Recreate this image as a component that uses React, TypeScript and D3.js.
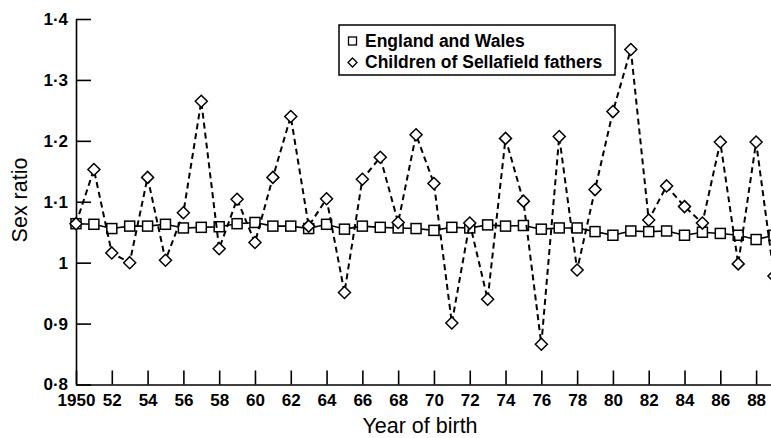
import React, { useRef, useEffect } from 'react';
import * as d3 from 'd3';

const years = [
  1950, 1951, 1952, 1953, 1954, 1955, 1956, 1957, 1958, 1959,
  1960, 1961, 1962, 1963, 1964, 1965, 1966, 1967, 1968, 1969,
  1970, 1971, 1972, 1973, 1974, 1975, 1976, 1977, 1978, 1979,
  1980, 1981, 1982, 1983, 1984, 1985, 1986, 1987, 1988, 1989,
];

const englandWales = [
  1.064, 1.063, 1.056, 1.060, 1.060, 1.063, 1.057, 1.058, 1.059, 1.064,
  1.066, 1.060, 1.060, 1.056, 1.063, 1.055, 1.060, 1.058, 1.057, 1.056,
  1.053, 1.058, 1.057, 1.062, 1.060, 1.061, 1.055, 1.057, 1.057, 1.051,
  1.045, 1.052, 1.051, 1.052, 1.045, 1.050, 1.048, 1.045, 1.038, 1.045,
];

const sellafield = [
  1.064, 1.153, 1.016, 1.000, 1.140, 1.004, 1.082, 1.265, 1.023, 1.104,
  1.033, 1.140, 1.240, 1.060, 1.105, 0.951, 1.137, 1.173, 1.066, 1.210,
  1.130, 0.901, 1.065, 0.940, 1.204, 1.101, 0.866, 1.207, 0.988, 1.120,
  1.248, 1.350, 1.070, 1.126, 1.092, 1.065, 1.198, 0.998, 1.198, 0.978,
];

const xTicks = [1950, 1952, 1954, 1956, 1958, 1960, 1962, 1964, 1966, 1968, 1970,
  1972, 1974, 1976, 1978, 1980, 1982, 1984, 1986, 1988];
const yTicks = [0.8, 0.9, 1.0, 1.1, 1.2, 1.3, 1.4];

const seriesNames = ['England and Wales', 'Children of Sellafield fathers'];

const width = 771;
const height = 438;
const FONT = '"Liberation Sans", Arial, Helvetica, sans-serif';

export default function App() {
  const ref = useRef<SVGSVGElement | null>(null);

  useEffect(() => {
    if (!ref.current) return;
    const svg = d3.select(ref.current);
    svg.selectAll('*').remove();

    const x = d3.scaleLinear().domain([1950, 1989]).range([76, 774]);
    const y = d3.scaleLinear().domain([0.8, 1.4]).range([384.5, 19]);

    // x axis, ticks point up into the plot
    const xAxis = d3.axisBottom(x)
      .tickValues(xTicks)
      .tickSizeInner(-14)
      .tickSizeOuter(0)
      .tickPadding(9)
      .tickFormat((d: any) => (d === 1950 ? '1950' : String(d).slice(2)));
    const gx = svg.append('g')
      .attr('transform', `translate(0,${y(0.8)})`)
      .call(xAxis);

    // y axis, ticks point right
    const yAxis = d3.axisLeft(y)
      .tickValues(yTicks)
      .tickSizeInner(-15)
      .tickSizeOuter(0)
      .tickPadding(8)
      .tickFormat((d: any) => (Math.abs(d - 1) < 1e-9 ? '1' : d3.format('.1f')(d).replace('.', '\u00B7')));
    const gy = svg.append('g')
      .attr('transform', `translate(${x(1950)},0)`)
      .call(yAxis);

    [gx, gy].forEach(g => {
      g.selectAll('path, line').attr('stroke', '#000').attr('stroke-width', 1.6);
      g.selectAll('text')
        .attr('fill', '#000')
        .style('font-family', FONT)
        .style('font-size', '17px')
        .style('font-weight', 'bold');
    });

    const lineFor = (vals: number[]) => d3.line<number>()
      .x((_, i) => x(years[i]))
      .y(d => y(d))(vals);

    // England and Wales: solid with squares
    svg.append('path')
      .attr('d', lineFor(englandWales))
      .attr('fill', 'none')
      .attr('stroke', '#000')
      .attr('stroke-width', 1.6);
    const sq = 10;
    svg.append('g').selectAll('rect')
      .data(englandWales)
      .enter()
      .append('rect')
      .attr('x', (_, i) => x(years[i]) - sq / 2)
      .attr('y', d => y(d) - sq / 2)
      .attr('width', sq)
      .attr('height', sq)
      .attr('fill', '#fff')
      .attr('stroke', '#000')
      .attr('stroke-width', 1.5);

    // Sellafield: dashed with diamonds
    svg.append('path')
      .attr('d', lineFor(sellafield))
      .attr('fill', 'none')
      .attr('stroke', '#000')
      .attr('stroke-width', 2)
      .attr('stroke-dasharray', '6,4');
    const dm = 6;
    svg.append('g').selectAll('path')
      .data(sellafield)
      .enter()
      .append('path')
      .attr('d', (d, i) => {
        const cx = x(years[i]);
        const cy = y(d);
        return `M${cx},${cy - dm}L${cx + dm},${cy}L${cx},${cy + dm}L${cx - dm},${cy}Z`;
      })
      .attr('fill', '#fff')
      .attr('stroke', '#000')
      .attr('stroke-width', 1.5);

    // axis titles
    svg.append('text')
      .attr('x', 420)
      .attr('y', 433)
      .attr('text-anchor', 'middle')
      .style('font-family', FONT)
      .style('font-size', '21.5px')
      .text('Year of birth');
    svg.append('text')
      .attr('transform', 'translate(27,200) rotate(-90)')
      .attr('text-anchor', 'middle')
      .style('font-family', FONT)
      .style('font-size', '21.5px')
      .text('Sex ratio');

    // legend
    const lg = svg.append('g');
    lg.append('rect')
      .attr('x', 339).attr('y', 25)
      .attr('width', 276).attr('height', 50)
      .attr('fill', '#fff')
      .attr('stroke', '#000')
      .attr('stroke-width', 1.5);
    lg.append('rect')
      .attr('x', 348.5).attr('y', 37)
      .attr('width', 8).attr('height', 8)
      .attr('fill', '#fff').attr('stroke', '#000').attr('stroke-width', 1.3);
    lg.append('path')
      .attr('d', 'M352.5,58L357,62.5L352.5,67L348,62.5Z')
      .attr('fill', '#fff').attr('stroke', '#000').attr('stroke-width', 1.3);
    lg.selectAll('text.lbl')
      .data(seriesNames)
      .enter()
      .append('text')
      .attr('class', 'lbl')
      .attr('x', 365)
      .attr('y', (_, i) => 46.5 + i * 21)
      .style('font-family', FONT)
      .style('font-size', '17.5px')
      .style('font-weight', 'bold')
      .text(d => d);
  }, []);

  return (
    <div style={{ position: 'absolute', left: 0, top: 0 }}>
      <svg ref={ref} width={width} height={height} style={{ display: 'block', background: '#fff' }} />
    </div>
  );
}
